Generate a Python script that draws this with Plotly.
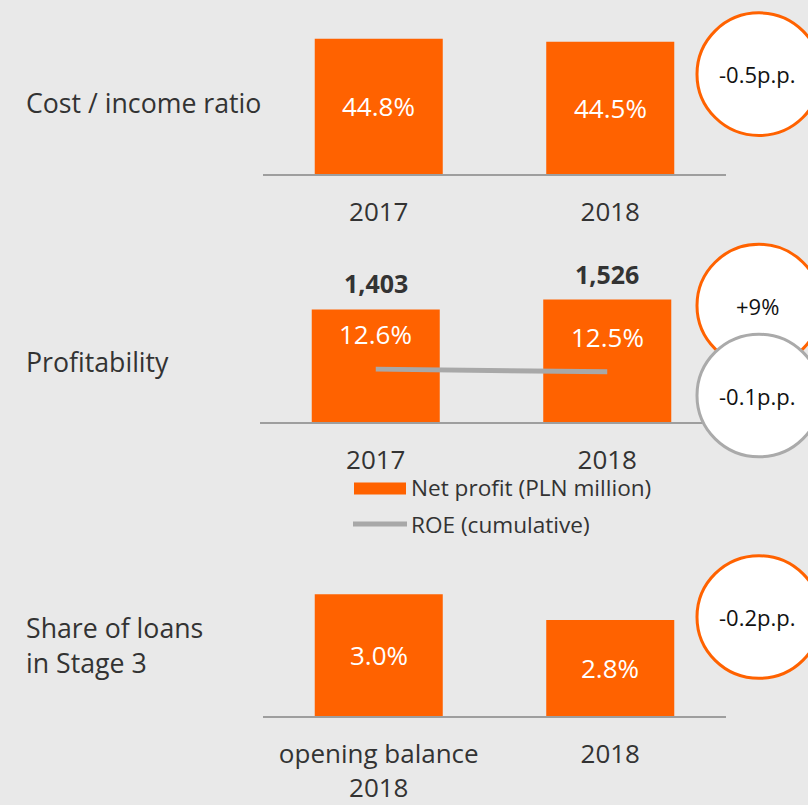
import plotly.graph_objects as go

# ---- data ----
cost_categories = ["2017", "2018"]
cost_income = [44.8, 44.5]
cost_labels = ["44.8%", "44.5%"]

profit_categories = ["2017", "2018"]
net_profit = [1403, 1526]
net_profit_labels = ["1,403", "1,526"]
roe = [12.6, 12.5]
roe_labels = ["12.6%", "12.5%"]

stage3_categories = ["opening balance<br>2018", "2018"]
stage3_share = [3.0, 2.8]
stage3_labels = ["3.0%", "2.8%"]

row_titles = ["Cost / income ratio", "Profitability", "Share of loans<br>in Stage 3"]
change_badges = ["-0.5p.p.", "+9%", "-0.1p.p.", "-0.2p.p."]
legend_names = ["Net profit (PLN million)", "ROE (cumulative)"]

# ---- style ----
W, H = 808, 805
ORANGE = "#ff6200"
GREY_LINE = "#a8a8a8"
AXIS = "#9e9e9e"
BG = "#e9e9e9"
TXT = "#333333"
FONT = "Open Sans"

Y1 = [31.13, 45.73]
Y2 = [0, 2178]
Y3 = [2.0538, 3.2385]
Y4 = [10.611, 17.167]


def px(x):
    return x / W


def py(y):
    return 1 - y / H


fig = go.Figure()

# Panel 1
fig.add_trace(go.Bar(x=cost_categories, y=cost_income,
                     marker=dict(color=ORANGE, line=dict(width=0)),
                     xaxis="x", yaxis="y", showlegend=False, hoverinfo="skip"))
# Panel 2
fig.add_trace(go.Bar(x=profit_categories, y=net_profit,
                     marker=dict(color=ORANGE, line=dict(width=0)),
                     xaxis="x2", yaxis="y2", showlegend=False, hoverinfo="skip"))
fig.add_trace(go.Scatter(x=profit_categories, y=roe, mode="lines",
                         line=dict(color=GREY_LINE, width=5),
                         xaxis="x2", yaxis="y4", showlegend=False, hoverinfo="skip"))
# Panel 3
fig.add_trace(go.Bar(x=stage3_categories, y=stage3_share,
                     marker=dict(color=ORANGE, line=dict(width=0)),
                     xaxis="x3", yaxis="y3", showlegend=False, hoverinfo="skip"))

xcommon = dict(type="category", showgrid=False, zeroline=False, showline=True, linecolor=AXIS,
               linewidth=2, ticks="", tickfont=dict(size=26, color=TXT, family=FONT),
               fixedrange=True, range=[-0.5, 1.5], ticklabelstandoff=14)
ycommon = dict(showgrid=False, zeroline=False, showline=False, showticklabels=False, fixedrange=True)

anno = []
# labels in the middle of the visible part of the bars (panels 1 and 3)
for i, (v, t) in enumerate(zip(cost_income, cost_labels)):
    anno.append(dict(x=i, y=(v + Y1[0]) / 2, xref="x", yref="y", text=t, showarrow=False,
                     font=dict(size=26, color="white", family=FONT)))
for i, (v, t) in enumerate(zip(stage3_share, stage3_labels)):
    anno.append(dict(x=i, y=(v + Y3[0]) / 2, xref="x3", yref="y3", text=t, showarrow=False,
                     font=dict(size=26, color="white", family=FONT)))
# value labels above panel-2 bars
for i, (v, t) in enumerate(zip(net_profit, net_profit_labels)):
    anno.append(dict(x=i, y=v, xref="x2", yref="y2", text="<b>" + t + "</b>", showarrow=False,
                     yshift=26, font=dict(size=25, color=TXT, family=FONT)))
# ROE labels
for i, (v, t) in enumerate(zip(roe, roe_labels)):
    anno.append(dict(x=i, y=v, xref="x2", yref="y4", text=t, showarrow=False,
                     yshift=35, font=dict(size=26, color="white", family=FONT)))

# row titles
for t, yy in zip(row_titles, [104, 366, 652]):
    anno.append(dict(x=px(24), y=py(yy), xref="paper", yref="paper", text=t, showarrow=False,
                     xanchor="left", yanchor="middle", align="left",
                     font=dict(size=26.7, color=TXT, family=FONT)))

# badges (circles)
shapes = []
badge_specs = [(75, ORANGE), (309, ORANGE), (400, "#aaaaaa"), (624, ORANGE)]
R = 62
for cy, col in badge_specs:
    shapes.append(dict(type="circle", xref="paper", yref="paper",
                       x0=px(759 - R), x1=px(759 + R), y0=py(cy + R), y1=py(cy - R),
                       fillcolor="white", line=dict(color=col, width=3), layer="above"))

# legend (manual)
shapes.append(dict(type="rect", xref="paper", yref="paper", x0=px(354), x1=px(406),
                   y0=py(500), y1=py(488), fillcolor=ORANGE, line=dict(width=0)))
shapes.append(dict(type="line", xref="paper", yref="paper", x0=px(353), x1=px(407),
                   y0=py(530), y1=py(530), line=dict(color=GREY_LINE, width=5)))
for t, yy in zip(legend_names, [493, 530]):
    anno.append(dict(x=px(409), y=py(yy), xref="paper", yref="paper", text=t, showarrow=False,
                     xanchor="left", yanchor="middle", font=dict(size=22.6, color=TXT, family=FONT)))

# badge texts
for (cy, col), t in zip(badge_specs, change_badges):
    anno.append(dict(x=px(757), y=py(cy), xref="paper", yref="paper", text=t, showarrow=False,
                     xanchor="center", yanchor="middle",
                     font=dict(size=22, color="#111111", family=FONT)))

fig.update_layout(
    width=W, height=H, autosize=False,
    margin=dict(l=0, r=0, t=0, b=0),
    paper_bgcolor=BG, plot_bgcolor=BG,
    bargap=0.447,
    font=dict(family=FONT, color=TXT),
    xaxis=dict(domain=[px(263), px(726)], anchor="y", **xcommon),
    xaxis2=dict(domain=[px(260), px(723)], anchor="y2", **xcommon),
    xaxis3=dict(domain=[px(263), px(726)], anchor="y3", **xcommon),
    yaxis=dict(domain=[py(176), py(30)], range=Y1, anchor="x", **ycommon),
    yaxis2=dict(domain=[py(427), py(250)], range=Y2, anchor="x2", **ycommon),
    yaxis3=dict(domain=[py(724), py(570)], range=Y3, anchor="x3", **ycommon),
    yaxis4=dict(domain=[py(427), py(250)], range=Y4, anchor="x2", overlaying="y2", **ycommon),
    shapes=shapes,
    annotations=anno,
)

fig.write_html("out.html", config={"displayModeBar": False},
               post_script="document.body.style.margin='0px';")
